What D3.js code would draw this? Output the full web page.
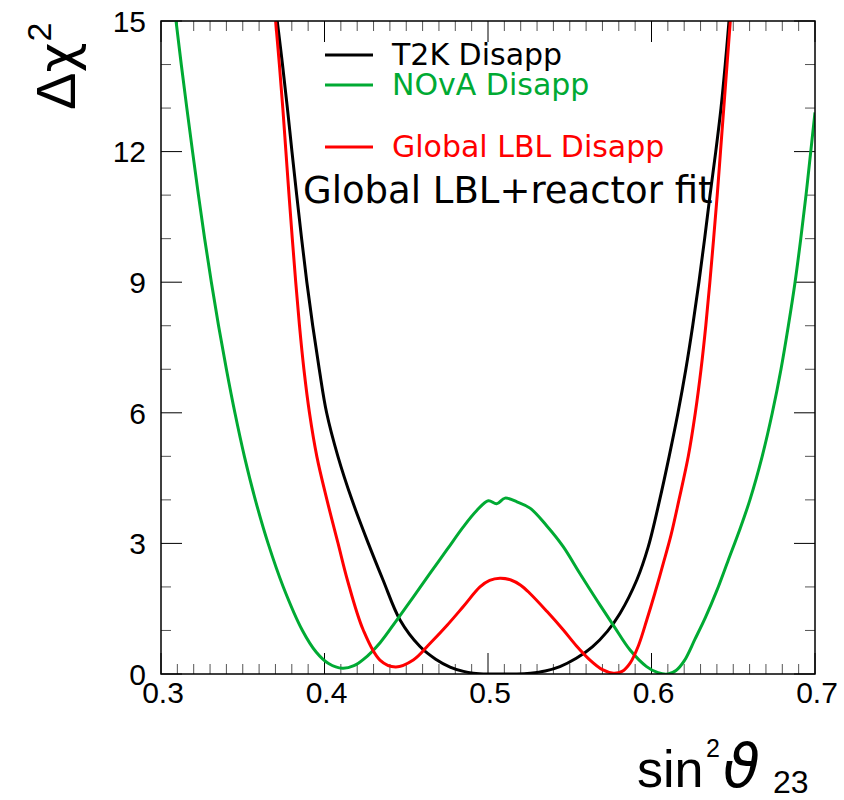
<!DOCTYPE html>
<html>
<head>
<meta charset="utf-8">
<script src="https://cdn.jsdelivr.net/npm/d3@7"></script>
<style>
  html, body { margin: 0; padding: 0; background: #fff; }
  svg { display: block; }
</style>
</head>
<body>
<script>
// Δχ² profiles versus sin²θ23 for long-baseline disappearance fits

const xTicks = [0.3, 0.4, 0.5, 0.6, 0.7];
const yTicks = [0, 3, 6, 9, 12, 15];

const t2kX = [0.3711, 0.3743, 0.3773, 0.3801, 0.3830, 0.3860, 0.3892, 0.3928, 0.3968, 0.4013, 0.4082, 0.4168,
  0.4268, 0.4358, 0.4462, 0.4584, 0.4680, 0.4768, 0.4850, 0.4910, 0.5000, 0.5100, 0.5177, 0.5260, 0.5350,
  0.5440, 0.5540, 0.5640, 0.5730, 0.5807, 0.5910, 0.5980, 0.6050, 0.6108, 0.6162, 0.6210, 0.6252, 0.6290,
  0.6325, 0.6358, 0.6393, 0.6425, 0.6451, 0.6474];
const t2kChi2 = [15, 14, 13, 12, 11, 10, 9, 8, 7, 6, 5, 4,
  3, 2.16, 1.24, 0.63, 0.34, 0.16, 0.06, 0.02, 0.0, 0.0, 0.0, 0.02, 0.07,
  0.17, 0.36, 0.63, 0.98, 1.39, 2.16, 2.92, 4, 5, 6, 7, 8, 9,
  10, 11, 12, 13, 14, 15];

const novaX = [0.3092, 0.3124, 0.3158, 0.3193, 0.3229, 0.3267, 0.3308, 0.3352, 0.3400, 0.3452, 0.3510, 0.3577,
  0.3655, 0.3748, 0.3865, 0.3950, 0.4025, 0.4110, 0.4180, 0.4240, 0.4340, 0.4442, 0.4545, 0.4645, 0.4750,
  0.4849, 0.4930, 0.5002, 0.5053, 0.5104, 0.5180, 0.5257, 0.5360, 0.5461, 0.5560, 0.5665, 0.5770, 0.5869,
  0.5970, 0.6040, 0.6100, 0.6150, 0.6200, 0.6266, 0.6330, 0.6400, 0.6470, 0.6540, 0.6602, 0.6677, 0.6739,
  0.6792, 0.6837, 0.6878, 0.6913, 0.6945, 0.6974, 0.7000];
const novaChi2 = [15, 14, 13, 12, 11, 10, 9, 8, 7, 6, 5, 4,
  3, 2, 1, 0.5, 0.24, 0.13, 0.19, 0.34, 0.72, 1.24, 1.78, 2.31, 2.86,
  3.38, 3.75, 3.98, 3.91, 4.04, 3.95, 3.81, 3.40, 2.92, 2.32, 1.70, 1.10, 0.55,
  0.17, 0.03, 0.0, 0.08, 0.30, 0.80, 1.30, 1.92, 2.62, 3.32, 4, 5, 6,
  7, 8, 9, 10, 11, 12, 12.9];

const globalX = [0.3701, 0.3724, 0.3745, 0.3764, 0.3783, 0.3803, 0.3824, 0.3847, 0.3874, 0.3908, 0.3953, 0.4015,
  0.4083, 0.4140, 0.4237, 0.4339, 0.4435, 0.4543, 0.4645, 0.4750, 0.4849, 0.4951, 0.5010, 0.5073, 0.5140,
  0.5200, 0.5257, 0.5360, 0.5461, 0.5540, 0.5624, 0.5700, 0.5767, 0.5820, 0.5869, 0.5920, 0.5971, 0.6020,
  0.6072, 0.6120, 0.6168, 0.6225, 0.6268, 0.6303, 0.6332, 0.6357, 0.6380, 0.6402, 0.6422, 0.6442, 0.6462, 0.6482];
const globalChi2 = [15, 14, 13, 12, 11, 10, 9, 8, 7, 6, 5, 4,
  3, 2.16, 1.01, 0.32, 0.16, 0.32, 0.70, 1.12, 1.55, 2.00, 2.15, 2.20, 2.16,
  2.04, 1.85, 1.44, 1.01, 0.65, 0.32, 0.10, 0.02, 0.06, 0.25, 0.65, 1.24, 1.85,
  2.54, 3.20, 4, 5, 6, 7, 8, 9, 10, 11, 12, 13, 14, 15];

const seriesNames = ["T2K Disapp", "NOvA Disapp", "Global LBL Disapp"];
const seriesColors = ["#000000", "#00aa33", "#ff0000"];
const fitLabel = "Global LBL+reactor fit";

const W = 844, H = 800;
const plotL = 161, plotR = 815, plotT = 21, plotB = 674;

const x = d3.scaleLinear().domain([0.3, 0.7]).range([plotL, plotR]);
const y = d3.scaleLinear().domain([0, 15]).range([plotB, plotT]);

const svg = d3.select("body").append("svg")
  .attr("width", W).attr("height", H)
  .style("font-family", "'Liberation Sans', Arial, sans-serif");

svg.append("rect").attr("width", W).attr("height", H).attr("fill", "#fff");

svg.append("defs").append("clipPath").attr("id", "plot-clip")
  .append("rect").attr("x", plotL).attr("y", plotT)
  .attr("width", plotR - plotL).attr("height", plotB - plotT);

// ticks on all four sides, pointing inward
const tickG = svg.append("g").attr("stroke", "#000").attr("stroke-width", 1);
const xMinor = d3.range(0, 41).map(i => 0.3 + i * 0.01);
xMinor.forEach((v, i) => {
  const major = i % 10 === 0;
  const len = major ? 21 : 10;
  const px = x(v);
  tickG.append("line").attr("x1", px).attr("x2", px).attr("y1", plotB).attr("y2", plotB - len)
    .attr("stroke", major ? "#000" : "#555");
  tickG.append("line").attr("x1", px).attr("x2", px).attr("y1", plotT).attr("y2", plotT + len)
    .attr("stroke", major ? "#000" : "#555");
});
const yMinor = d3.range(0, 16);
yMinor.forEach(v => {
  const major = v % 3 === 0;
  const len = major ? 21 : 10;
  const py = y(v);
  tickG.append("line").attr("x1", plotL).attr("x2", plotL + len).attr("y1", py).attr("y2", py)
    .attr("stroke", major ? "#000" : "#555");
  tickG.append("line").attr("x1", plotR).attr("x2", plotR - len).attr("y1", py).attr("y2", py)
    .attr("stroke", major ? "#000" : "#555");
});

// curves
const curves = [
  { xs: t2kX, ys: t2kChi2, color: seriesColors[0] },
  { xs: novaX, ys: novaChi2, color: seriesColors[1] },
  { xs: globalX, ys: globalChi2, color: seriesColors[2] }
];
const line = d3.line().x(d => x(d[0])).y(d => y(d[1])).curve(d3.curveCatmullRom.alpha(0.5));
const curveG = svg.append("g").attr("clip-path", "url(#plot-clip)");
curves.forEach(c => {
  curveG.append("path")
    .datum(d3.zip(c.xs, c.ys))
    .attr("d", line)
    .attr("fill", "none")
    .attr("stroke", c.color)
    .attr("stroke-width", 3)
    .attr("stroke-linejoin", "round");
});

// frame
svg.append("rect").attr("x", plotL).attr("y", plotT)
  .attr("width", plotR - plotL).attr("height", plotB - plotT)
  .attr("fill", "none").attr("stroke", "#000").attr("stroke-width", 1.5);

// tick labels
svg.append("g").selectAll("text").data(yTicks).join("text")
  .attr("x", 146).attr("y", d => y(d) + 10.7)
  .attr("text-anchor", "end").attr("font-size", 30).text(d => d);
svg.append("g").selectAll("text").data(xTicks).join("text")
  .attr("x", d => x(d) + 2).attr("y", 703)
  .attr("text-anchor", "middle").attr("font-size", 30).text(d => d.toFixed(1));

// axis titles
const yt = svg.append("text")
  .attr("transform", "translate(75,110) rotate(-90)")
  .attr("font-size", 56);
yt.append("tspan").text("Δ");
yt.append("tspan").attr("font-family", "'DejaVu Sans', sans-serif").attr("font-size", 52).text("χ");
yt.append("tspan").attr("font-size", 34).attr("dy", -24).attr("dx", 1).text("2");

const xt = svg.append("text").attr("y", 787).attr("font-size", 52);
xt.append("tspan").attr("x", 637).text("sin");
xt.append("tspan").attr("x", 706).attr("y", 757).attr("font-size", 25).text("2");
xt.append("tspan").attr("x", 723).attr("y", 787)
  .attr("font-family", "'DejaVu Sans', sans-serif").attr("font-style", "italic")
  .attr("font-size", 60).text("ϑ");
xt.append("tspan").attr("x", 773).attr("y", 793).attr("font-size", 32).text("23");

// legend
const legendY = [55, 85, 147];
const legend = svg.append("g").style("font-family", "'DejaVu Sans', sans-serif");
seriesNames.forEach((name, i) => {
  legend.append("line").attr("x1", 325).attr("x2", 373)
    .attr("y1", legendY[i]).attr("y2", legendY[i])
    .attr("stroke", seriesColors[i]).attr("stroke-width", 3);
  legend.append("text").attr("x", 392).attr("y", legendY[i] + 10)
    .attr("font-size", 30).attr("fill", seriesColors[i]).text(name);
});
legend.append("text").attr("x", 303).attr("y", 203)
  .attr("font-size", 37).attr("fill", "#000").text(fitLabel);
</script>
</body>
</html>
